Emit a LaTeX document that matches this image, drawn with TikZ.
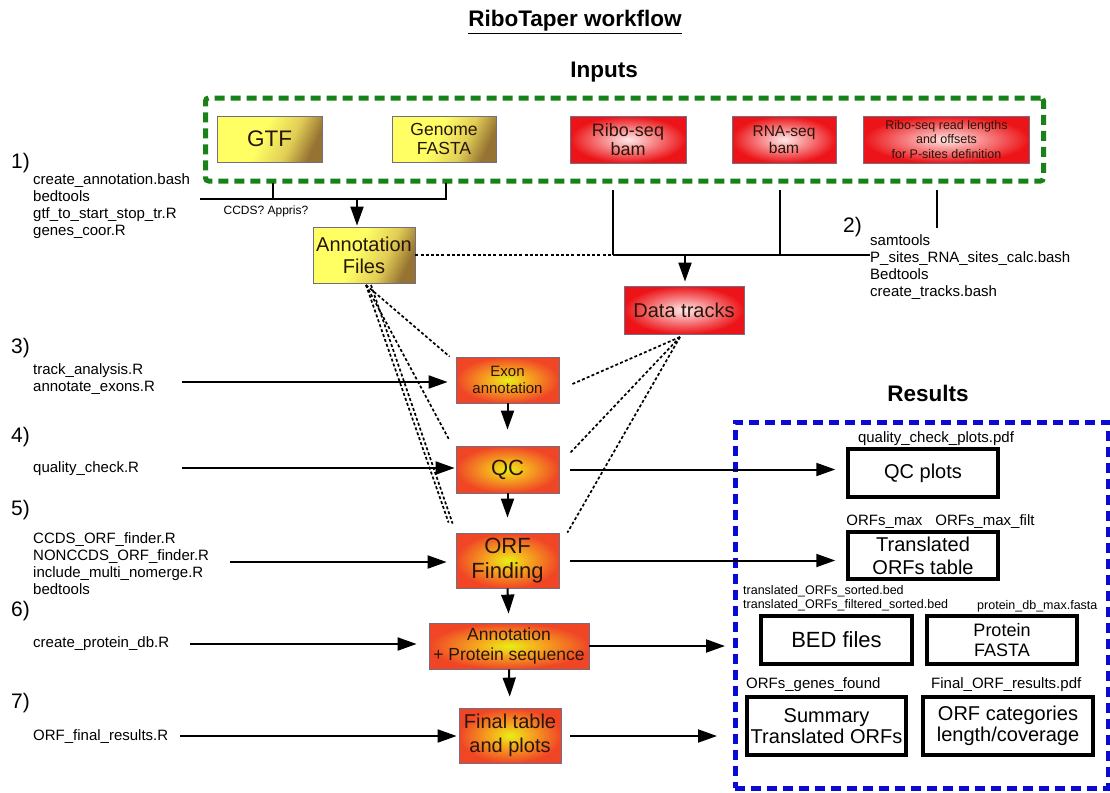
\documentclass[tikz,border=0pt]{standalone}
\usepackage{fontspec}
\setmainfont{Liberation Sans}
\usetikzlibrary{arrows.meta}
\definecolor{yA}{RGB}{255,255,100}
\definecolor{yB}{RGB}{225,205,85}
\definecolor{yC}{RGB}{150,115,50}
\definecolor{rC}{RGB}{255,232,232}
\definecolor{rO}{RGB}{236,20,24}
\definecolor{oC}{RGB}{230,240,20}
\definecolor{oM}{RGB}{245,175,30}
\definecolor{oO}{RGB}{240,70,38}
\definecolor{bordc}{RGB}{115,110,130}
\definecolor{txt}{RGB}{40,22,12}
\definecolor{gdash}{RGB}{24,130,24}
\definecolor{bdash}{RGB}{10,10,215}
\pgfdeclarehorizontalshading{ybrown}{100bp}{color(0bp)=(yA); color(25bp)=(yA); color(45bp)=(yA); color(62bp)=(yB); color(75bp)=(yC); color(100bp)=(yC)}
\pgfdeclareradialshading{orsh}{\pgfpoint{0bp}{0bp}}{color(0bp)=(oC); color(9bp)=(oM); color(25bp)=(oO); color(50bp)=(oO)}
\newcommand\fsz[2]{\fontsize{#1}{#2}\selectfont}
\begin{document}
\begin{tikzpicture}[x=1pt,y=-1pt,
  base/.style={draw=bordc, line width=0.8pt, align=center, inner sep=0pt, text=txt},
  ybox/.style={base, shading=ybrown, shading angle=-25},
  rbox/.style={base, inner color=rC, outer color=rO},
  obox/.style={base, shading=orsh},
  resbox/.style={draw=black, line width=3.5pt, fill=white, align=center, inner sep=0pt},
  hdr/.style={font=\fsz{22.5}{26}\bfseries},
  lbl/.style={align=left, inner sep=0pt, anchor=west},
  num/.style={font=\fsz{21}{24}, inner sep=0pt, anchor=west},
  conn/.style={line width=2pt, black},
  arr/.style={conn, -{Triangle[length=19pt,width=13pt]}},
  dots/.style={line width=1.7pt, dash pattern=on 3pt off 2.2pt},
  greendash/.style={draw=gdash, line width=5pt, dash pattern=on 10pt off 6pt, rounded corners=3pt, inner sep=0pt},
  bluedash/.style={draw=bdash, line width=5pt, dash pattern=on 10pt off 6pt, inner sep=0pt}
]
\useasboundingbox (0,0) rectangle (1110,792);

% titles
\node[hdr] (title) at (575,22) {\underline{RiboTaper workflow}};
\node[hdr] (inputs) at (604,72) {Inputs};
\node[hdr] (results) at (928,393) {Results};

% frames
\node[greendash, minimum width=838pt, minimum height=83pt] (inframe) at (624.5,139.5) {};
\node[bluedash, minimum width=373pt, minimum height=366pt] (resframe) at (921.5,605) {};

% input boxes
\node[ybox, minimum width=105pt, minimum height=46pt, font=\fsz{22.5}{25}] (gtf) at (269.5,139) {GTF};
\node[ybox, minimum width=104pt, minimum height=46pt, font=\fsz{17.5}{19.5}] (genome) at (444,139) {Genome\\FASTA};
\node[rbox, minimum width=116pt, minimum height=47pt, font=\fsz{18}{19}] (ribo) at (628,139.5) {Ribo-seq\\bam};
\node[rbox, minimum width=104pt, minimum height=47pt, font=\fsz{15.5}{17}] (rna) at (784,139.5) {RNA-seq\\bam};
\node[rbox, minimum width=166pt, minimum height=47pt, font=\fsz{12.5}{14.5}] (readlen) at (946.5,139.5) {Ribo-seq read lengths\\and offsets\\for P-sites definition};

% workflow boxes
\node[ybox, minimum width=102pt, minimum height=56pt, font=\fsz{20}{22}] (annot) at (364,255) {Annotation\\Files};
\node[rbox, minimum width=120pt, minimum height=48pt, font=\fsz{20}{22}] (dtrack) at (684,310) {Data tracks};
\node[obox, minimum width=103pt, minimum height=46pt, font=\fsz{15}{17}] (exon) at (507.5,380) {Exon\\annotation};
\node[obox, minimum width=103pt, minimum height=47pt, font=\fsz{22}{25}] (qc) at (507.5,469.5) {QC};
\node[obox, minimum width=103pt, minimum height=55pt, font=\fsz{22}{25}] (orf) at (507.5,560.5) {ORF\\Finding};
\node[obox, minimum width=160pt, minimum height=46pt, font=\fsz{17.5}{20}] (prot) at (509,646) {Annotation\\+ Protein sequence};
\node[obox, minimum width=102pt, minimum height=55pt, font=\fsz{20}{23.5}] (final) at (510,735.5) {Final table\\and plots};

% result boxes
\node[resbox, minimum width=150pt, minimum height=48pt, font=\fsz{20}{23}] (qcplots) at (923,473) {QC plots};
\node[resbox, minimum width=150pt, minimum height=47pt, font=\fsz{20}{23}] (trans) at (923,555.5) {Translated\\ORFs table};
\node[resbox, minimum width=151pt, minimum height=48pt, font=\fsz{22}{25}] (bed) at (836.5,640) {BED files};
\node[resbox, minimum width=150pt, minimum height=48pt, font=\fsz{18}{20}] (pfasta) at (1002,640) {Protein\\FASTA};
\node[resbox, minimum width=159pt, minimum height=58pt, font=\fsz{20}{20.5}] (summ) at (826.5,726) {Summary\\Translated ORFs};
\node[resbox, minimum width=170pt, minimum height=58pt, font=\fsz{20}{20.5}] (orfcat) at (1008,726) {ORF categories\\length/coverage};

% result file labels
\node[font=\fsz{15}{17}, inner sep=0pt] (lqc) at (936,439) {quality\_check\_plots.pdf};
\node[font=\fsz{15}{17}, inner sep=0pt] (ltr) at (940.5,522) {ORFs\_max\hspace{13pt}ORFs\_max\_filt};
\node[lbl, font=\fsz{12.5}{14}] (lbed) at (743,598) {translated\_ORFs\_sorted.bed\\translated\_ORFs\_filtered\_sorted.bed};
\node[lbl, font=\fsz{12.5}{14}] (lpf) at (977,606) {protein\_db\_max.fasta};
\node[lbl, font=\fsz{15}{17}] (lsum) at (746,685) {ORFs\_genes\_found};
\node[lbl, font=\fsz{15}{17}] (lcat) at (931,685) {Final\_ORF\_results.pdf};

% step labels
\node[num] (n1) at (11,163) {1)};
\node[lbl, font=\fsz{15}{17}] (t1) at (33,206.5) {create\_annotation.bash\\bedtools\\gtf\_to\_start\_stop\_tr.R\\genes\_coor.R};
\node[num] (n2) at (843,227) {2)};
\node[lbl, font=\fsz{15}{17}] (t2) at (870,267.5) {samtools\\P\_sites\_RNA\_sites\_calc.bash\\Bedtools\\create\_tracks.bash};
\node[num] (n3) at (11,348) {3)};
\node[lbl, font=\fsz{15}{17}] (t3) at (33,379.5) {track\_analysis.R\\annotate\_exons.R};
\node[num] (n4) at (11,437) {4)};
\node[lbl, font=\fsz{15}{17}] (t4) at (33,469) {quality\_check.R};
\node[num] (n5) at (11,510) {5)};
\node[lbl, font=\fsz{15}{17}] (t5) at (33,563.5) {CCDS\_ORF\_finder.R\\NONCCDS\_ORF\_finder.R\\include\_multi\_nomerge.R\\bedtools};
\node[num] (n6) at (11,611) {6)};
\node[lbl, font=\fsz{15}{17}] (t6) at (33,644) {create\_protein\_db.R};
\node[num] (n7) at (11,703) {7)};
\node[lbl, font=\fsz{15}{17}] (t7) at (33,737) {ORF\_final\_results.R};
\node[font=\fsz{12}{14}, inner sep=0pt] (ccds) at (266,211) {CCDS? Appris?};

% annotation inputs
\coordinate (g1) at (273,183);
\coordinate (g2) at (446,183);
\coordinate (hl) at (200,199);
\coordinate (hr) at (447,199);
\draw[conn] (g1) -- (g1 |- hl);
\draw[conn] (g2) -- (g2 |- hl);
\draw[conn] (hl) -- (hr);
\draw[arr, shorten >=1pt] ([xshift=-7pt]annot.north |- hl) -- ([xshift=-7pt]annot.north);

% data track inputs
\coordinate (r1) at (613,190);
\coordinate (r2) at (780,190);
\coordinate (jl) at (613,255);
\coordinate (jr) at (870,255);
\coordinate (r3) at (937,190);
\coordinate (r3b) at (937,228);
\coordinate (dend) at (630,255);
\draw[conn] (r1) -- (r1 |- jl);
\draw[conn] (r2) -- (r2 |- jl);
\draw[conn] (jl) -- (jr);
\draw[conn] (r3) -- (r3b);
\draw[dots] (annot.east) -- (dend);
\draw[arr, shorten >=4pt] ([xshift=1pt]dtrack.north |- jl) -- ([xshift=1pt]dtrack.north);

% dotted links from annotation files
\coordinate (ao1) at (366,285);
\coordinate (ao2) at (371,285);
\draw[dots] (ao1) -- ([xshift=-6pt]exon.north west);
\draw[dots] (ao1) -- ([shift={(-6pt,5pt)}]qc.north west);
\draw[dots] (ao1) -- ([shift={(-7pt,10pt)}]orf.north west);
\draw[dots] (ao2) -- ([shift={(-3pt,9pt)}]orf.north west);

% dotted links from data tracks
\coordinate (dto) at (680,337);
\draw[dots] (dto) -- ([shift={(13pt,-4pt)}]exon.east);
\draw[dots] (dto) -- ([shift={(11pt,-7pt)}]qc.north east);
\draw[dots] (dto) -- ([shift={(8pt,0pt)}]orf.north east);

% vertical flow
\draw[arr, shorten >=16pt] (exon.south) -- (qc.north);
\draw[arr, shorten >=15pt] (qc.south) -- (orf.north);
\draw[arr, shorten >=9pt] (orf.south) -- (prot.north);
\draw[arr, shorten >=11pt] (prot.south) -- (final.north);

% step arrows
\coordinate (s3) at (182,382);
\coordinate (s4) at (182,468);
\coordinate (s5) at (230,562);
\coordinate (s6) at (190,644);
\coordinate (s7) at (180,736);
\draw[arr, shorten >=8pt] (s3) -- (s3 -| exon.west);
\draw[arr, shorten >=1pt] (s4) -- (s4 -| qc.west);
\draw[arr, shorten >=9pt] (s5) -- (s5 -| orf.west);
\draw[arr, shorten >=12pt] (s6) -- (s6 -| prot.west);
\draw[arr, shorten >=2pt] (s7) -- (s7 -| final.west);

% output arrows
\coordinate (pe) at (725,646);
\coordinate (fe) at (717,736);
\draw[arr, shorten <=11pt, shorten >=11pt] (qc.east) -- (qc.east -| qcplots.west);
\draw[arr, shorten <=11pt, shorten >=11pt] (orf.east) -- (orf.east -| trans.west);
\draw[arr] (prot.east) -- (pe);
\draw[arr, shorten <=9pt] (final.east |- fe) -- (fe);
\end{tikzpicture}
\end{document}
